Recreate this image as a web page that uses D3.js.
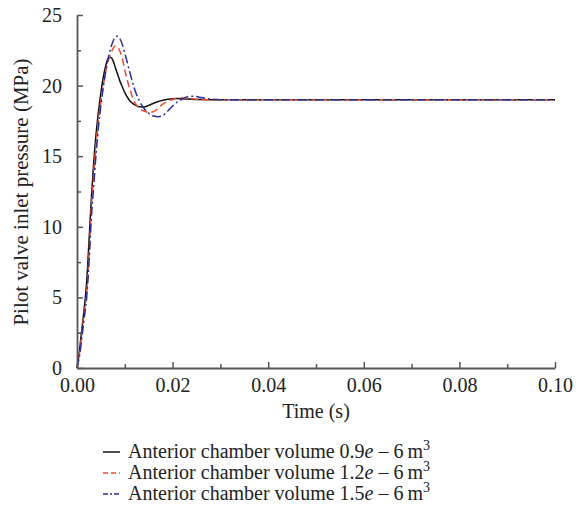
<!DOCTYPE html>
<html>
<head>
<meta charset="utf-8">
<script src="https://cdn.jsdelivr.net/npm/d3@7"></script>
<style>
  html, body { margin: 0; padding: 0; background: #fff; }
  svg { display: block; }
  text { font-family: "Liberation Serif", "Times New Roman", serif; fill: #222; }
</style>
</head>
<body>
<svg id="chart" width="584" height="523"></svg>
<script>
// ---- data ----
const time = [0, 0.0005, 0.001, 0.0015, 0.002, 0.0025, 0.003, 0.0035, 0.004, 0.0045,
  0.005, 0.0055, 0.006, 0.0065, 0.007, 0.0075, 0.008, 0.0085, 0.009, 0.0095,
  0.01, 0.011, 0.012, 0.013, 0.014, 0.015, 0.016, 0.017, 0.018, 0.019,
  0.02, 0.021, 0.022, 0.023, 0.024, 0.025, 0.026, 0.028, 0.03, 0.035,
  0.04, 0.05, 0.06, 0.07, 0.08, 0.09, 0.1];
const vol09 = [0, 1.2, 2.7, 4.2, 6.0, 8.9, 12.0, 14.6, 16.6, 18.2,
  19.5, 20.6, 21.4, 21.9, 22.0, 21.8, 21.3, 20.8, 20.3, 19.9,
  19.5, 18.95, 18.65, 18.5, 18.48, 18.6, 18.75, 18.88, 18.97, 19.03,
  19.07, 19.08, 19.07, 19.05, 19.03, 19.02, 19.01, 19.0, 19.0, 19.0,
  19.0, 19.0, 19.0, 19.0, 19.0, 19.0, 19.0];
const vol12 = [0, 1.0, 2.4, 3.9, 5.2, 7.9, 11.3, 13.8, 15.9, 17.6,
  18.9, 20.0, 21.0, 21.7, 22.2, 22.6, 22.8, 22.75, 22.4, 21.9,
  21.1, 19.8, 18.85, 18.4, 18.2, 18.1, 18.15, 18.4, 18.7, 18.9,
  19.02, 19.1, 19.12, 19.1, 19.07, 19.04, 19.02, 19.0, 19.0, 19.0,
  19.0, 19.0, 19.0, 19.0, 19.0, 19.0, 19.0];
const vol15 = [0, 0.8, 2.1, 3.5, 4.9, 7.4, 10.6, 12.9, 15.2, 17.1,
  18.6, 19.9, 21.0, 21.9, 22.6, 23.1, 23.45, 23.5, 23.3, 22.9,
  22.3, 21.0, 19.8, 18.95, 18.4, 18.05, 17.85, 17.8, 17.9, 18.2,
  18.55, 18.85, 19.05, 19.2, 19.25, 19.22, 19.15, 19.05, 19.0, 19.0,
  19.0, 19.0, 19.0, 19.0, 19.0, 19.0, 19.0];
const seriesNames = ["0.9", "1.2", "1.5"];
const xTicks = [0, 0.02, 0.04, 0.06, 0.08, 0.10];
const xMinorTicks = [0.01, 0.03, 0.05, 0.07, 0.09];
const yTicks = [0, 5, 10, 15, 20, 25];
const yMinorTicks = [2.5, 7.5, 12.5, 17.5, 22.5];
const xTitle = "Time (s)";
const yTitle = "Pilot valve inlet pressure (MPa)";

// ---- chart ----
const svg = d3.select("#chart");
const x = d3.scaleLinear().domain([0, 0.1]).range([77, 555]);
const y = d3.scaleLinear().domain([0, 25]).range([368, 15]);

const styles = [
  { values: vol09, color: "#111111", dash: null, legendDash: null },
  { values: vol12, color: "#f04a2a", dash: "7,4", legendDash: "5,3" },
  { values: vol15, color: "#2c2c9c", dash: "9,3,2,3", legendDash: "5,2,2,2" }
];

const axisColor = "#555";
const fontSize = 20;

// minor ticks
svg.append("g").attr("transform", `translate(0,${y(0)})`)
  .call(d3.axisBottom(x).tickValues(xMinorTicks).tickSize(-4).tickFormat(""))
  .call(g => g.select(".domain").remove())
  .call(g => g.selectAll("line").attr("stroke", axisColor).attr("stroke-width", 1.5));
svg.append("g").attr("transform", `translate(${x(0)},0)`)
  .call(d3.axisLeft(y).tickValues(yMinorTicks).tickSize(-4).tickFormat(""))
  .call(g => g.select(".domain").remove())
  .call(g => g.selectAll("line").attr("stroke", axisColor).attr("stroke-width", 1.5));

// lines
const line = d3.line().x((d, i) => x(time[i])).y(d => y(d)).curve(d3.curveMonotoneX);
styles.forEach(s => {
  svg.append("path")
    .datum(s.values)
    .attr("d", line)
    .attr("fill", "none")
    .attr("stroke", s.color)
    .attr("stroke-width", 1.5)
    .attr("stroke-dasharray", s.dash);
});

// major axes
svg.append("g").attr("transform", `translate(0,${y(0)})`)
  .call(d3.axisBottom(x).tickValues(xTicks).tickSizeInner(-6).tickSizeOuter(0)
    .tickPadding(10).tickFormat(d3.format(".2f")))
  .call(g => g.select(".domain").attr("stroke", axisColor).attr("stroke-width", 1.8))
  .call(g => g.selectAll("line").attr("stroke", axisColor).attr("stroke-width", 1.5))
  .call(g => g.selectAll("text").attr("font-size", fontSize)
    .attr("font-family", '"Liberation Serif", serif').attr("fill", "#222"));

svg.append("g").attr("transform", `translate(${x(0)},0)`)
  .call(d3.axisLeft(y).tickValues(yTicks).tickSizeInner(-6).tickSizeOuter(0)
    .tickPadding(15).tickFormat(d3.format("d")))
  .call(g => g.select(".domain").attr("stroke", axisColor).attr("stroke-width", 1.8))
  .call(g => g.selectAll("line").attr("stroke", axisColor).attr("stroke-width", 1.5))
  .call(g => g.selectAll("text").attr("font-size", fontSize)
    .attr("font-family", '"Liberation Serif", serif').attr("fill", "#222"));

// titles
svg.append("text").attr("x", 316).attr("y", 418).attr("text-anchor", "middle")
  .attr("font-size", fontSize).text(xTitle);
svg.append("text").attr("transform", "translate(28,192) rotate(-90)")
  .attr("text-anchor", "middle").attr("font-size", 21).text(yTitle);

// legend
const legend = svg.append("g");
styles.forEach((s, i) => {
  const ly = 452 + i * 21;
  legend.append("line").attr("x1", 103).attr("x2", 120).attr("y1", ly).attr("y2", ly)
    .attr("stroke", s.color).attr("stroke-width", 1.5).attr("stroke-dasharray", s.legendDash);
  const t = legend.append("text").attr("x", 128).attr("y", ly + 6).attr("font-size", 20);
  t.append("tspan").text("Anterior chamber volume " + seriesNames[i]);
  t.append("tspan").attr("font-style", "italic").text("e");
  t.append("tspan").text(" \u2013 6\u2009m");
  t.append("tspan").attr("dy", -8).attr("font-size", 14).text("3");
});
</script>
</body>
</html>
